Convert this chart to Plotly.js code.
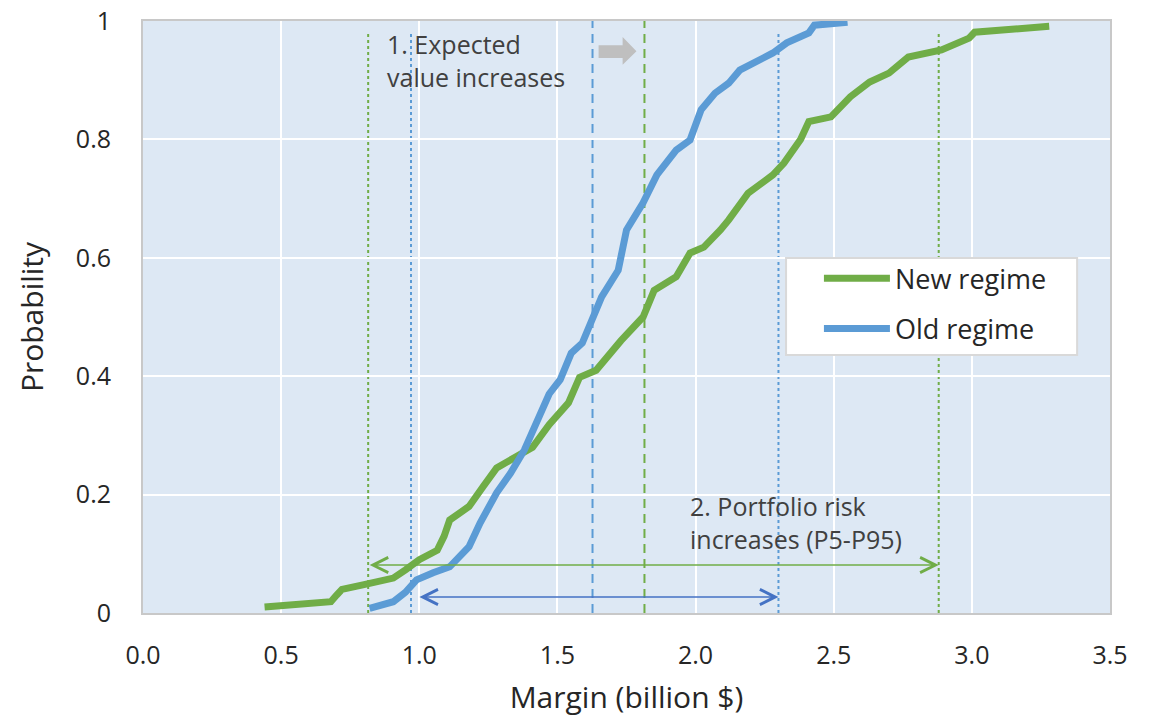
<!DOCTYPE html>
<html>
<head>
<meta charset="utf-8">
<script src="https://cdn.plot.ly/plotly-3.0.1.min.js"></script>
<style>html,body{margin:0;padding:0;background:#fff;}#chart{width:1150px;height:718px;}</style>
</head>
<body>
<div id="chart"></div>
<script>
// New regime cumulative distribution (margin in billion $, probability)
var newX = [0.44,0.56,0.68,0.70,0.72,0.80,0.906,0.95,1.00,1.065,1.09,1.11,1.18,1.23,1.28,1.35,1.41,1.47,1.54,1.58,1.64,1.73,1.81,1.85,1.93,1.98,2.03,2.09,2.12,2.19,2.24,2.28,2.32,2.38,2.41,2.49,2.56,2.63,2.70,2.77,2.89,2.99,3.01,3.28];
var newY = [0.010,0.014,0.019,0.030,0.040,0.048,0.059,0.073,0.090,0.106,0.130,0.157,0.180,0.213,0.245,0.264,0.280,0.318,0.355,0.398,0.410,0.460,0.500,0.545,0.568,0.608,0.618,0.647,0.664,0.709,0.728,0.740,0.760,0.800,0.830,0.838,0.872,0.897,0.912,0.939,0.951,0.971,0.981,0.991];
// Old regime cumulative distribution
var oldX = [0.82,0.906,0.95,0.99,1.05,1.11,1.18,1.22,1.28,1.33,1.38,1.43,1.47,1.51,1.55,1.59,1.62,1.66,1.72,1.75,1.81,1.86,1.93,1.98,2.02,2.07,2.12,2.16,2.28,2.33,2.41,2.43,2.55];
var oldY = [0.008,0.019,0.035,0.056,0.068,0.078,0.112,0.152,0.203,0.236,0.275,0.331,0.370,0.394,0.439,0.456,0.490,0.534,0.579,0.647,0.693,0.740,0.782,0.799,0.850,0.878,0.895,0.917,0.946,0.963,0.980,0.993,0.998];
// Summary statistics
var oldMean = 1.627, newMean = 1.815;
var oldP5 = 0.97, oldP95 = 2.30;
var newP5 = 0.815, newP95 = 2.88;
var oldArrowStart = 0.995;
var xTickVals = [0,0.5,1,1.5,2,2.5,3,3.5];
var xTickText = ['0.0','0.5','1.0','1.5','2.0','2.5','3.0','3.5'];
var yTickVals = [0,0.2,0.4,0.6,0.8,1];
var yTickText = ['0','0.2','0.4','0.6','0.8','1'];
var seriesNames = ['New regime','Old regime'];
var note1 = '1. Expected<br>value increases';
var note2 = '2. Portfolio risk<br>increases (P5-P95)';

var GREEN = '#70ad47', BLUE = '#5b9bd5', ARROWBLUE = '#4472c4';
var FONT = '"Open Sans", "Noto Sans", sans-serif';

var traces = [
  {x: newX, y: newY, name: seriesNames[0], legendgroup: 'n', mode: 'lines', type: 'scatter',
   line: {color: GREEN, width: 7}},
  {x: oldX, y: oldY, name: seriesNames[1], legendgroup: 'o', mode: 'lines', type: 'scatter',
   line: {color: BLUE, width: 7}}
];

function vline(x, top, color, dash) {
  return {type: 'line', xref: 'x', yref: 'y', x0: x, x1: x, y0: 0, y1: top,
          line: {color: color, width: 2, dash: dash}, layer: 'below'};
}

var shapes = [
  vline(newP5, 0.98, GREEN, 'dot'),
  vline(newP95, 0.98, GREEN, 'dot'),
  vline(oldP5, 0.98, BLUE, 'dot'),
  vline(oldP95, 0.98, BLUE, 'dot'),
  vline(oldMean, 1, BLUE, '9px,6px'),
  vline(newMean, 1, GREEN, '9px,6px'),
  // gray block arrow
  {type: 'path', xref: 'x', yref: 'y', layer: 'above',
   path: 'M1.649,0.959 L1.736,0.959 L1.736,0.973 L1.786,0.949 L1.736,0.926 L1.736,0.9375 L1.649,0.9375 Z',
   fillcolor: '#bfbfbf', line: {width: 0}},
  // legend frame
  {type: 'rect', xref: 'paper', yref: 'paper', layer: 'above',
   x0: 0.665, x1: 0.966, y0: 0.4358, y1: 0.5997,
   fillcolor: '#ffffff', line: {color: '#d9d9d9', width: 2}}
];

var annotations = [
  {x: newP95, y: 0.081, ax: newP5, ay: 0.081, xref: 'x', yref: 'y', axref: 'x', ayref: 'y',
   text: '', showarrow: true, arrowside: 'end+start', arrowhead: 5, startarrowhead: 5,
   arrowsize: 2, startarrowsize: 2, arrowwidth: 1.5, arrowcolor: GREEN, standoff: 0, startstandoff: 0},
  {x: oldP95, y: 0.027, ax: oldArrowStart, ay: 0.027, xref: 'x', yref: 'y', axref: 'x', ayref: 'y',
   text: '', showarrow: true, arrowside: 'end+start', arrowhead: 5, startarrowhead: 5,
   arrowsize: 2, startarrowsize: 2, arrowwidth: 1.5, arrowcolor: ARROWBLUE, standoff: 0, startstandoff: 0},
  {x: 0.875, y: 0.993, xref: 'x', yref: 'y', xanchor: 'left', yanchor: 'top', align: 'left',
   text: note1, showarrow: false, font: {family: FONT, size: 25, color: '#404040'}},
  {x: 1.972, y: 0.213, xref: 'x', yref: 'y', xanchor: 'left', yanchor: 'top', align: 'left',
   text: note2, showarrow: false, font: {family: FONT, size: 25, color: '#404040'}}
];

var layout = {
  width: 1150, height: 718,
  margin: {l: 143, r: 40, t: 21, b: 105},
  paper_bgcolor: '#ffffff',
  plot_bgcolor: '#dde8f4',
  font: {family: FONT, size: 20, color: '#262626'},
  showlegend: true,
  legend: {x: 0.699, y: 0.606, xanchor: 'left', yanchor: 'top',
           bgcolor: 'rgba(0,0,0,0)', borderwidth: 0,
           font: {family: FONT, size: 27, color: '#262626'},
           itemwidth: 66, tracegroupgap: 12},
  xaxis: {range: [0, 3.5], tickvals: xTickVals, ticktext: xTickText,
          showgrid: true, gridcolor: '#ffffff', gridwidth: 2, zeroline: false,
          showline: true, linecolor: '#c8c8c8', linewidth: 2, mirror: true,
          ticks: '', ticklabelstandoff: 19, tickfont: {size: 25},
          title: {text: 'Margin (billion $)', font: {size: 30, color: '#262626'}, standoff: 17}},
  yaxis: {range: [0, 1], tickvals: yTickVals, ticktext: yTickText,
          showgrid: true, gridcolor: '#ffffff', gridwidth: 2, zeroline: false,
          showline: true, linecolor: '#c8c8c8', linewidth: 2, mirror: true,
          ticks: '', ticklabelstandoff: 25, tickfont: {size: 25},
          title: {text: 'Probability', font: {size: 30, color: '#262626'}, standoff: 23}},
  shapes: shapes,
  annotations: annotations
};

Plotly.newPlot('chart', traces, layout, {displayModeBar: false, staticPlot: true});
</script>
</body>
</html>
